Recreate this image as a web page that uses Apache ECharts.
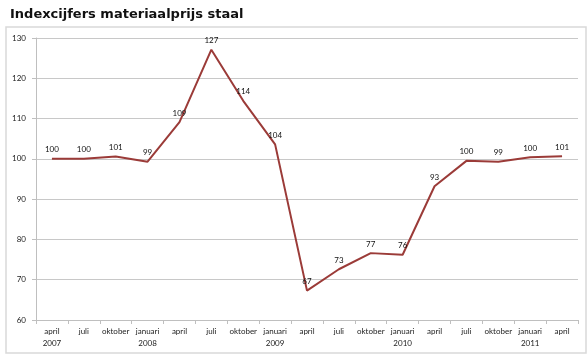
<!DOCTYPE html>
<html><head><meta charset="utf-8">
<script src="https://cdn.jsdelivr.net/npm/echarts@6/dist/echarts.min.js"></script>
<style>html,body{margin:0;padding:0;background:#fff}#c{width:588px;height:357px}</style>
</head><body><div id="c"></div>
<script>
const title = "Indexcijfers materiaalprijs staal";
const categories = ["april\n2007","juli","oktober","januari\n2008","april","juli","oktober","januari\n2009","april","juli","oktober","januari\n2010","april","juli","oktober","januari\n2011","april"];
const values = [100.0,100.0,100.6,99.3,109.1,127.1,114.4,103.6,67.3,72.6,76.6,76.2,93.2,99.5,99.3,100.4,100.65];
const yTicks = {min:60,max:130,interval:10};

const chart = echarts.init(document.getElementById('c'), null, {renderer:'canvas'});
chart.setOption({
  animation:false,
  backgroundColor:'#fff',
  title:{text:title,left:5,top:3,textStyle:{fontFamily:'DejaVu Sans',fontWeight:'bold',fontSize:13,color:'#111'}},
  graphic:[{type:'rect',shape:{x:6,y:27,width:580,height:326},style:{fill:null,stroke:'#d9d9d9',lineWidth:1.5},silent:true}],
  grid:{left:36,right:10,top:38,bottom:37},
  xAxis:{type:'category',data:categories,boundaryGap:true,
    axisLine:{lineStyle:{color:'#bfbfbf'}},
    axisTick:{show:true,alignWithLabel:false,length:4,lineStyle:{color:'#bfbfbf'}},
    axisLabel:{interval:0,fontFamily:'Lato',fontSize:8,color:'#222',lineHeight:12,margin:5}},
  yAxis:{type:'value',min:yTicks.min,max:yTicks.max,interval:yTicks.interval,
    axisLine:{show:true,lineStyle:{color:'#bfbfbf'}},
    axisTick:{show:true,length:4,lineStyle:{color:'#bfbfbf'}},
    splitLine:{lineStyle:{color:'#c8c8c8'}},
    axisLabel:{fontFamily:'Lato',fontSize:8,color:'#222',margin:10}},
  series:[{type:'line',data:values,symbol:'circle',symbolSize:0,showSymbol:true,
    lineStyle:{color:'#9b3b38',width:2},
    itemStyle:{color:'#9b3b38'},
    label:{show:true,position:'top',distance:5,fontFamily:'Lato',fontSize:8,color:'#111',
      formatter:p=>Math.round(p.value)}}]
});
</script></body></html>
